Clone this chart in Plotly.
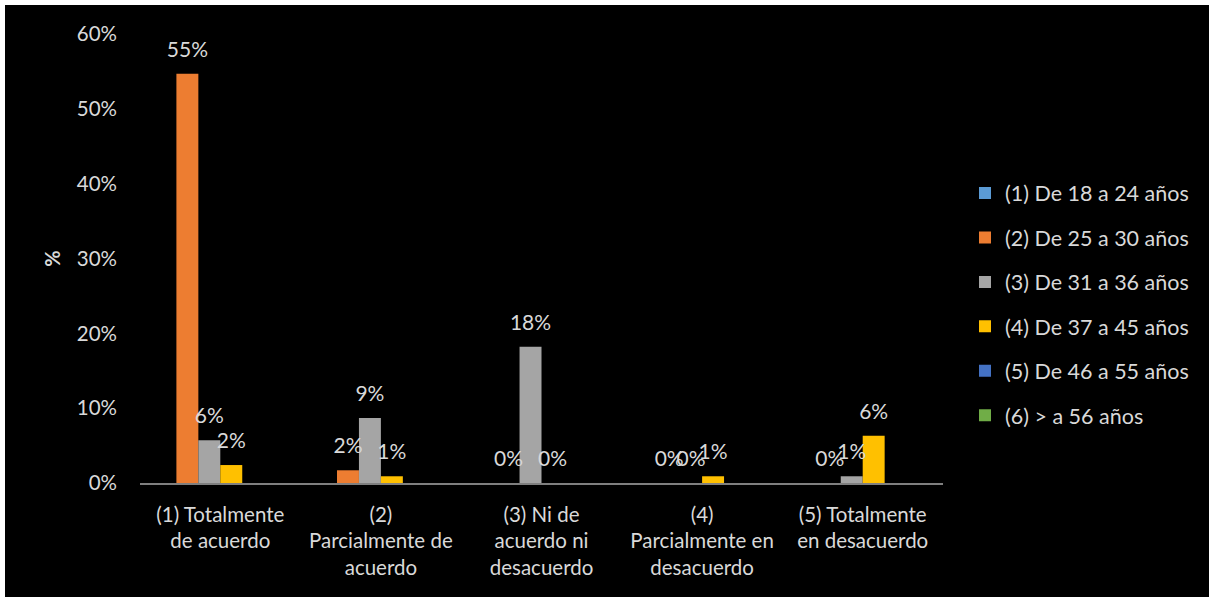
import plotly.graph_objects as go

categories = [
    "(1) Totalmente<br>de acuerdo",
    "(2)<br>Parcialmente de<br>acuerdo",
    "(3) Ni de<br>acuerdo ni<br>desacuerdo",
    "(4)<br>Parcialmente en<br>desacuerdo",
    "(5) Totalmente<br>en desacuerdo",
]
series_names = [
    "(1) De 18 a 24 años",
    "(2) De 25 a 30 años",
    "(3) De 31 a 36 años",
    "(4) De 37 a 45 años",
    "(5) De 46 a 55 años",
    "(6) > a 56 años",
]
s1 = [None, None, None, None, None]
s2 = [0.547, 0.017, 0.0, 0.0, 0.0]
s3 = [0.057, 0.087, 0.182, 0.0, 0.009]
s4 = [0.024, 0.009, 0.0, 0.009, 0.063]
s5 = [None, None, None, None, None]
s6 = [None, None, None, None, None]
series_values = [s1, s2, s3, s4, s5, s6]
colors = ["#5B9BD5", "#ED7D31", "#A5A5A5", "#FFC000", "#4472C4", "#70AD47"]
y_ticks = [0, 0.1, 0.2, 0.3, 0.4, 0.5, 0.6]

FONT = "Lato"
TXT = "#D9D9D9"
GAP = 0.18

fig = go.Figure()
for i, (name, vals, col) in enumerate(zip(series_names, series_values, colors)):
    fig.add_trace(go.Bar(
        x=categories, y=vals, name=name, marker=dict(color=col, line=dict(width=0)),
        offsetgroup=str(i), legendgroup=str(i),
    ))
for i, vals in enumerate(series_values):
    fig.add_trace(go.Scatter(
        x=categories, y=vals, mode="markers+text", offsetgroup=str(i),
        marker=dict(size=17, opacity=0), texttemplate="%{y:.0%}",
        textposition="top center", textfont=dict(family=FONT, size=21, color=TXT),
        showlegend=False, hoverinfo="skip", cliponaxis=False,
    ))

L, R, T, B = 140, 271, 34, 117
W, H = 1214 - L - R, 600 - T - B

fig.update_layout(
    width=1214, height=600,
    margin=dict(l=L, r=R, t=T, b=B),
    paper_bgcolor="white", plot_bgcolor="black",
    barmode="group", bargap=GAP, scattermode="group", scattergap=GAP,
    font=dict(family=FONT, size=20, color=TXT),
    showlegend=True,
    legend=dict(x=(965 - L) / W, xanchor="left", y=(483 - 304.5) / H, yanchor="middle",
                font=dict(family=FONT, size=21.5, color=TXT), bgcolor="rgba(0,0,0,0)",
                tracegroupgap=13.5, traceorder="grouped"),
    shapes=[dict(type="rect", xref="paper", yref="paper", layer="below",
                 x0=(5 - L) / W, x1=(1209 - L) / W, y0=(T + H - 597) / H, y1=(T + H - 5) / H,
                 fillcolor="black", line=dict(width=0))],
)
fig.update_xaxes(showgrid=False, showline=True, linecolor="#7F7F7F", linewidth=2,
                 tickfont=dict(family=FONT, size=20.5, color=TXT), ticklabelstandoff=12,
                 zeroline=False)
fig.update_yaxes(range=[0, 0.6], tickvals=y_ticks, tickformat=".0%", showgrid=False,
                 zeroline=False, showline=False,
                 tickfont=dict(family=FONT, size=20.5, color=TXT), ticklabelstandoff=22,
                 title=dict(text="<b>%</b>", font=dict(family=FONT, size=20, color=TXT,
                                                      weight="bold"), standoff=10))

fig.write_html("out.html", config={"displayModeBar": False},
               post_script="document.body.style.margin='0';")
